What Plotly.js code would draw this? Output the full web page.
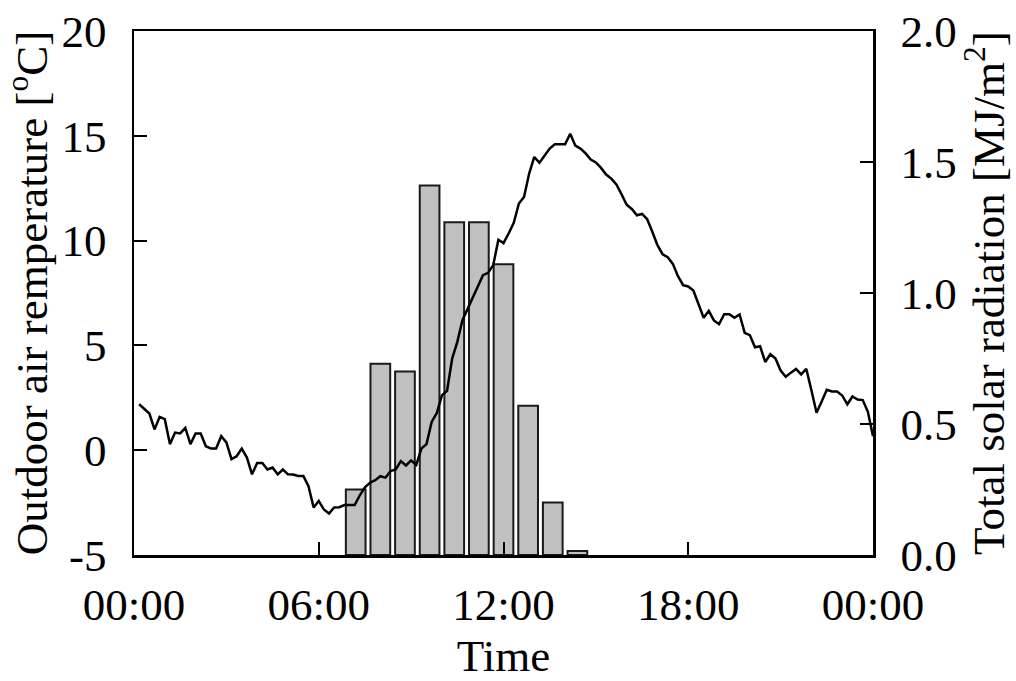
<!DOCTYPE html>
<html>
<head>
<meta charset="utf-8">
<script src="https://cdn.plot.ly/plotly-3.0.1.min.js"></script>
<style>html,body{margin:0;padding:0;background:#fff;}#chart{width:1016px;height:681px;}</style>
</head>
<body>
<div id="chart"></div>
<script>
// Time of each temperature reading, minutes after 00:00 (10-minute steps)
const tempMinutes = [
  10,20,30,40,50,60,70,80,90,100,110,120,130,140,150,160,170,180,190,200,
  210,220,230,240,250,260,270,280,290,300,310,320,330,340,350,360,370,380,390,400,
  410,420,430,440,450,460,470,480,490,500,510,520,530,540,550,560,570,580,590,600,
  610,620,630,640,650,660,670,680,690,700,710,720,730,740,750,760,770,780,790,800,
  810,820,830,840,850,860,870,880,890,900,910,920,930,940,950,960,970,980,990,1000,
  1010,1020,1030,1040,1050,1060,1070,1080,1090,1100,1110,1120,1130,1140,1150,1160,1170,1180,1190,1200,
  1210,1220,1230,1240,1250,1260,1270,1280,1290,1300,1310,1320,1330,1340,1350,1360,1370,1380,1390,1400,
  1410,1420,1430,1440
];
// Outdoor air temperature [°C]
const tempValues = [
  2.19,1.97,1.75,0.99,1.59,1.48,0.29,0.84,0.80,1.06,0.29,0.80,0.80,0.19,0.08,0.08,0.67,0.37,-0.43,-0.29,
  0.08,-0.35,-1.15,-0.61,-0.61,-0.92,-0.83,-1.15,-0.92,-1.15,-1.16,-1.23,-1.23,-1.72,-2.73,-2.42,-2.83,-3.02,-2.73,-2.72,
  -2.62,-2.62,-2.62,-2.15,-1.77,-1.55,-1.43,-1.24,-1.31,-1.00,-0.92,-0.52,-0.73,-0.49,-0.70,0.08,0.29,1.35,1.77,2.62,
  2.83,4.37,5.17,6.20,6.76,7.31,7.79,8.35,8.46,8.83,10.04,9.88,10.34,10.85,11.77,12.08,13.20,13.99,13.71,14.03,
  14.39,14.60,14.60,14.60,15.10,14.53,14.39,14.16,13.87,13.73,13.47,13.15,12.96,12.68,12.21,11.71,11.51,11.21,11.27,11.02,
  10.42,9.78,9.35,9.21,8.89,8.30,7.87,7.81,7.62,7.01,6.32,6.65,6.19,6.01,6.49,6.49,6.32,6.48,5.60,5.49,
  4.91,4.96,4.21,4.58,4.37,3.80,3.50,3.70,3.88,3.62,3.88,2.86,1.79,2.32,2.88,2.80,2.80,2.61,2.19,2.56,
  2.42,2.39,1.83,0.67
];
// Hourly total solar radiation [MJ/m2]
const barHours = [7,8,9,10,11,12,13,14,15,16];
const solarValues = [0.25,0.73,0.70,1.41,1.27,1.27,1.11,0.57,0.20,0.015];
// Tick labels
const timeTickVals = [0,360,720,1080,1440];
const timeTickText = ['00:00','06:00','12:00','18:00','00:00'];
const tempTickVals = [-5,0,5,10,15,20];
const tempTickText = ['-5','0','5','10','15','20'];
const solarTickVals = [0,0.5,1.0,1.5,2.0];
const solarTickText = ['0.0','0.5','1.0','1.5','2.0'];

const FONT = 'Liberation Serif, Times New Roman, serif';
const FS = 45;

const traces = [
  {
    type: 'bar', x: barHours, y: solarValues, xaxis: 'x', yaxis: 'y',
    width: 0.8,
    marker: {color: '#c0c0c0', line: {color: '#1a1a1a', width: 2}},
    hoverinfo: 'skip', showlegend: false
  },
  {
    type: 'scatter', mode: 'lines', x: tempMinutes, y: tempValues, xaxis: 'x2', yaxis: 'y2',
    line: {color: '#000', width: 2.5},
    showlegend: false
  }
];

const layout = {
  width: 1016, height: 681,
  margin: {l: 134, r: 143, t: 31, b: 126},
  paper_bgcolor: '#fff', plot_bgcolor: 'rgba(0,0,0,0)',
  font: {family: FONT, size: FS, color: '#000'},
  showlegend: false,
  bargap: 0,
  xaxis: {
    range: [-2, 28], visible: false, fixedrange: true
  },
  yaxis: {
    range: [0, 2], side: 'right', anchor: 'x',
    tickvals: solarTickVals, ticktext: solarTickText,
    ticks: 'inside', ticklen: 13, tickwidth: 2, tickcolor: '#000',
    showline: true, linecolor: '#000', linewidth: 2.5,
    showgrid: false, zeroline: false,
    ticklabelstandoff: 16,
    tickfont: {family: FONT, size: FS, color: '#000'},
    title: {text: 'Total solar radiation [MJ/m<sup>2</sup>]', font: {family: FONT, size: FS, color: '#000'}, standoff: 12}
  },
  xaxis2: {
    overlaying: 'x', anchor: 'y2', side: 'bottom',
    range: [0, 1440],
    tickvals: timeTickVals, ticktext: timeTickText,
    ticks: 'inside', ticklen: 13, tickwidth: 2, tickcolor: '#000',
    showline: true, linecolor: '#000', linewidth: 2.5, mirror: true,
    showgrid: false, zeroline: false,
    ticklabelstandoff: 8,
    tickfont: {family: FONT, size: FS, color: '#000'},
    title: {text: 'Time', font: {family: FONT, size: FS, color: '#000'}, standoff: 21}
  },
  yaxis2: {
    overlaying: 'y', anchor: 'x2', side: 'left',
    range: [-5, 20],
    tickvals: tempTickVals, ticktext: tempTickText,
    ticks: 'inside', ticklen: 13, tickwidth: 2, tickcolor: '#000',
    showline: true, linecolor: '#000', linewidth: 2.5,
    showgrid: false, zeroline: false,
    ticklabelstandoff: 16,
    tickfont: {family: FONT, size: FS, color: '#000'},
    title: {text: 'Outdoor air remperature [<sup>o</sup>C]', font: {family: FONT, size: FS, color: '#000'}, standoff: 10}
  }
};

Plotly.newPlot('chart', traces, layout, {displayModeBar: false, staticPlot: true});
</script>
</body>
</html>
